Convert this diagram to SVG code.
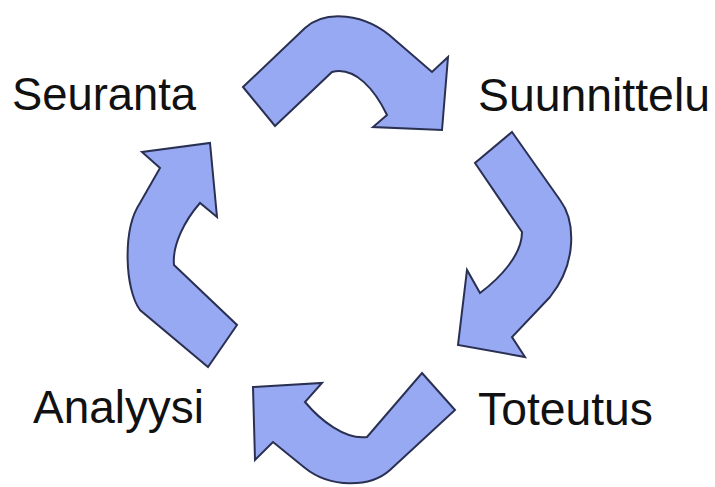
<svg xmlns="http://www.w3.org/2000/svg" width="715" height="487" viewBox="0 0 715 487">
<style>
.lbl{font-family:"Liberation Sans",Arial,sans-serif;font-size:46px;fill:#111;}
.arr{fill:#98A9F3;stroke:#2a3052;stroke-width:2;stroke-linejoin:miter;}
</style>
<rect width="715" height="487" fill="#ffffff"/>
<g id="connectors">
<path class="arr" d="M243,87 L305,28 C325,10 365,12 395,40 L432,72 L448,57 L442,130 L373,127 L387,115 C375,90 355,66 332,72 L275,126 Z"/>
<path class="arr" d="M512,132 L560,200 C575,220 578,262 550,297 L512,337 L525,357 L458,345 L467,270 L480,293 C500,278 522,255 522,232 L475,163 Z"/>
<path class="arr" d="M422,373 L455,410 L390,470 C370,488 330,488 305,468 L273,442 L255,460 L253,387 L322,383 L305,402 C320,420 345,440 367,437 Z"/>
<path class="arr" d="M237,325 L208,367 L140,310 C125,290 122,230 140,203 L160,168 L142,152 L210,143 L217,217 L200,203 C185,220 172,245 174,265 Z"/>
</g>
<g id="seuranta"><text class="lbl" x="12" y="110" textLength="184" lengthAdjust="spacingAndGlyphs">Seuranta</text></g>
<g id="suunnittelu"><text class="lbl" x="478" y="111" textLength="232" lengthAdjust="spacingAndGlyphs">Suunnittelu</text></g>
<g id="toteutus"><text class="lbl" x="478" y="425" textLength="175" lengthAdjust="spacingAndGlyphs">Toteutus</text></g>
<g id="analyysi"><text class="lbl" x="33" y="423" textLength="171" lengthAdjust="spacingAndGlyphs">Analyysi</text></g>
</svg>
